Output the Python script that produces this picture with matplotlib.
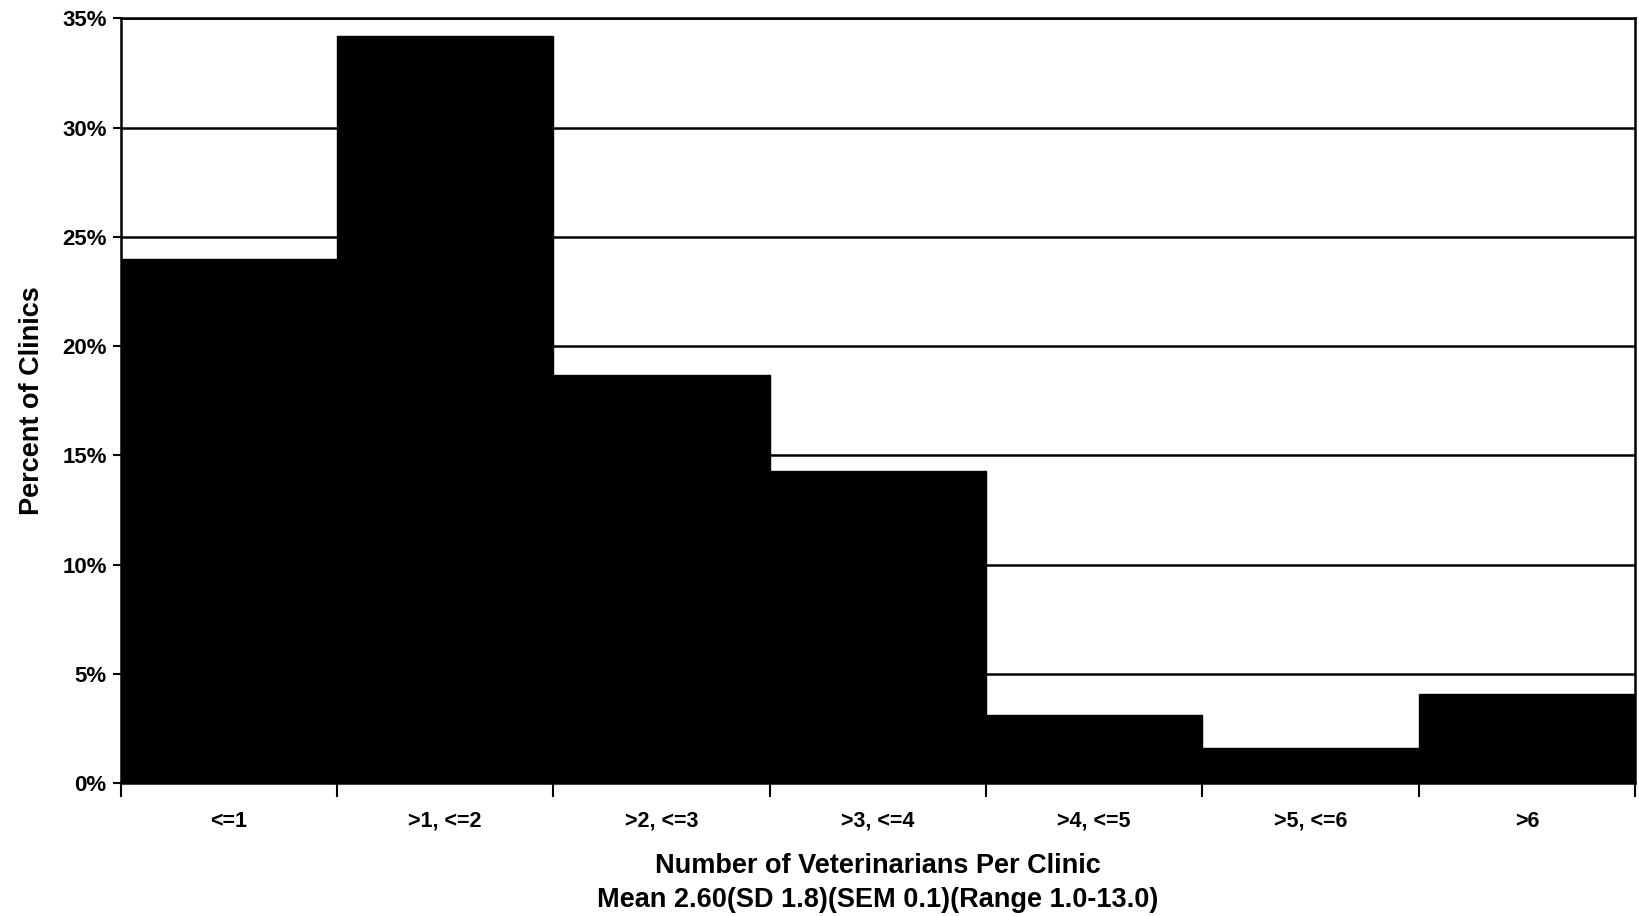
import numpy as np
import matplotlib
matplotlib.use('Agg')
import matplotlib.pyplot as plt
from matplotlib.ticker import FixedLocator, FixedFormatter

plt.rcParams['font.family'] = ['Liberation Sans', 'DejaVu Sans']
plt.rcParams['font.weight'] = 'bold'

# Data
categories = ['<=1', '>1, <=2', '>2, <=3', '>3, <=4', '>4, <=5', '>5, <=6', '>6']
percent_clinics = [24.0, 34.2, 18.7, 14.3, 3.1, 1.6, 4.1]
y_ticks = [0, 5, 10, 15, 20, 25, 30, 35]

fig = plt.figure(figsize=(16.4, 9.16), dpi=100)
ax = fig.add_axes([0.0735, 0.145, 0.9235, 0.835])

x = np.arange(len(categories))
ax.bar(x, percent_clinics, width=1.0, color='black', edgecolor='black', zorder=3)

ax.set_xlim(-0.5, len(categories) - 0.5)
ax.set_ylim(0, 35)

# gridlines
ax.set_yticks(y_ticks)
ax.set_yticklabels([f'{v}%' for v in y_ticks], fontsize=16, fontweight='bold')
ax.yaxis.grid(True, color='black', linewidth=1.8, zorder=1)
ax.tick_params(axis='y', length=6, width=1.5, pad=4)

# ticks at bar boundaries, labels centred on bars
ax.xaxis.set_major_locator(FixedLocator(np.arange(-0.5, len(categories), 1.0)))
ax.xaxis.set_major_formatter(FixedFormatter([''] * (len(categories) + 1)))
ax.xaxis.set_minor_locator(FixedLocator(x))
ax.xaxis.set_minor_formatter(FixedFormatter(categories))
ax.tick_params(axis='x', which='major', length=10, width=1.5)
ax.tick_params(axis='x', which='minor', length=0, pad=20, labelsize=15.5)
for lbl in ax.get_xticklabels(minor=True):
    lbl.set_fontweight('bold')

for side in ['left', 'bottom', 'top', 'right']:
    ax.spines[side].set_linewidth(1.8)
    ax.spines[side].set_color('black')

ax.set_ylabel('Percent of Clinics', fontsize=19.5, fontweight='bold', labelpad=12)
ax.set_xlabel('Number of Veterinarians Per Clinic\nMean 2.60(SD 1.8)(SEM 0.1)(Range 1.0-13.0)',
              fontsize=19.5, fontweight='bold', labelpad=15, linespacing=1.4)

fig.savefig('out.png', dpi=100)
